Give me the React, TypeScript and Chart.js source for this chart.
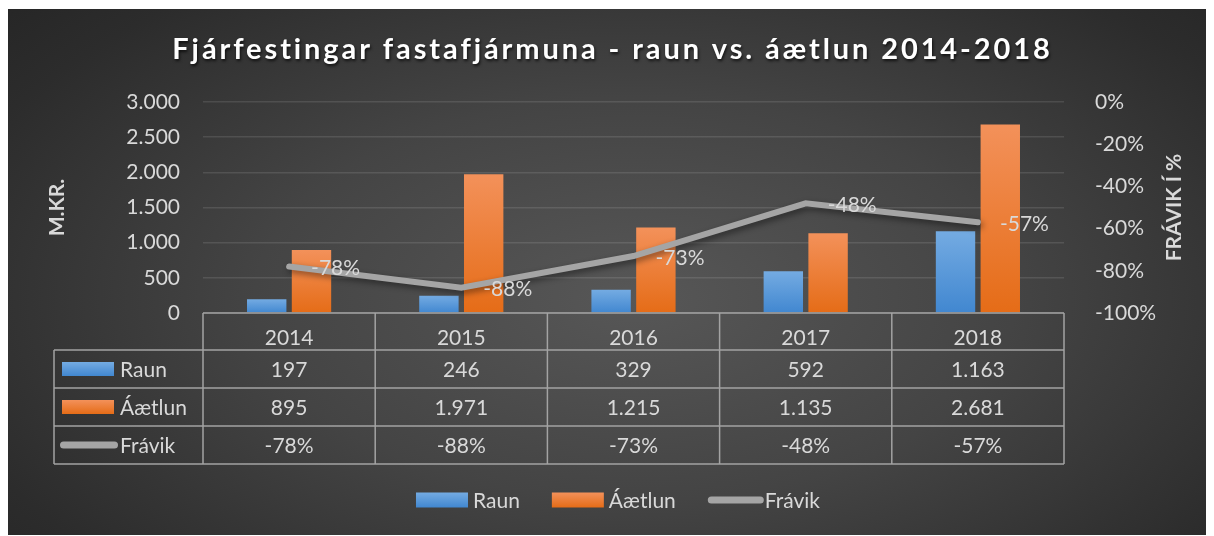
import React, { useEffect, useRef } from "react";
import { Chart, registerables } from "chart.js";

Chart.register(...registerables);

// ---------- data ----------
const categories = ["2014", "2015", "2016", "2017", "2018"];
const raun = [197, 246, 329, 592, 1163];
const aaetlun = [895, 1971, 1215, 1135, 2681];
const fravik = [-78, -88, -73, -48, -57];
const seriesNames = ["Raun", "Áætlun", "Frávik"];
const chartTitle = "Fjárfestingar fastafjármuna - raun vs. áætlun 2014-2018";
const leftAxisTitle = "M.KR.";
const rightAxisTitle = "FRÁVIK Í %";

// ---------- styles ----------
const FONT = "Lato, 'Open Sans', sans-serif";
const FS = 21;
const TEXT = "#d9d9d9";
const LINE = "#a5a5a5";
const TABLE_LINE = "#a3a3a3";
const BLUE_TOP = "#74abe2";
const BLUE_BOT = "#4187d0";
const ORANGE_TOP = "#f3915a";
const ORANGE_BOT = "#e56c17";
const HEADER_H = 37;
const ROW_H = 38;
const TABLE_LEFT = 46;

const fmt = (n: number) => String(n).replace(/\B(?=(\d{3})+(?!\d))/g, ".");

function barGradient(top: string, bot: string) {
  return (ctx: any) => {
    const chart = ctx.chart;
    if (!chart.chartArea || ctx.type !== "data") return top;
    const y = chart.scales.y;
    const y0 = y.getPixelForValue(ctx.raw);
    const y1 = y.getPixelForValue(0);
    if (!isFinite(y0) || !isFinite(y1) || y0 === y1) return top;
    const g = chart.ctx.createLinearGradient(0, y0, 0, y1);
    g.addColorStop(0, top);
    g.addColorStop(1, bot);
    return g;
  };
}

function drawBox(ctx: CanvasRenderingContext2D, x: number, yc: number, w: number, h: number, top: string, bot: string) {
  const g = ctx.createLinearGradient(0, yc - h / 2, 0, yc + h / 2);
  g.addColorStop(0, top);
  g.addColorStop(1, bot);
  ctx.fillStyle = g;
  ctx.fillRect(x, yc - h / 2, w, h);
}

function drawLineKey(ctx: CanvasRenderingContext2D, x: number, yc: number, w: number) {
  ctx.save();
  ctx.strokeStyle = LINE;
  ctx.lineWidth = 7;
  ctx.lineCap = "round";
  ctx.beginPath();
  ctx.moveTo(x + 3.5, yc);
  ctx.lineTo(x + w - 3.5, yc);
  ctx.stroke();
  ctx.restore();
}

const decorPlugin = {
  id: "decor",
  beforeDatasetDraw(chart: any, args: any) {
    if (args.meta.type === "line") {
      const ctx = chart.ctx;
      ctx.save();
      ctx.shadowColor = "rgba(0,0,0,0.45)";
      ctx.shadowBlur = 6;
      ctx.shadowOffsetX = 2;
      ctx.shadowOffsetY = 3;
    }
  },
  afterDatasetDraw(chart: any, args: any) {
    if (args.meta.type === "line") chart.ctx.restore();
  },
  afterDatasetsDraw(chart: any) {
    const ctx = chart.ctx as CanvasRenderingContext2D;
    const meta = chart.getDatasetMeta(2);
    ctx.save();
    ctx.font = `${FS}px ${FONT}`;
    ctx.fillStyle = TEXT;
    ctx.textAlign = "left";
    ctx.textBaseline = "middle";
    meta.data.forEach((pt: any, i: number) => {
      ctx.fillText(`${fravik[i]}%`, pt.x + 22, pt.y + 2);
    });
    ctx.restore();
  },
  afterDraw(chart: any) {
    const ctx = chart.ctx as CanvasRenderingContext2D;
    const area = chart.chartArea;
    const n = categories.length;
    const colW = (area.right - area.left) / n;
    const top = area.bottom;
    const rowTops = [top + HEADER_H, top + HEADER_H + ROW_H, top + HEADER_H + 2 * ROW_H];
    const bottom = top + HEADER_H + 3 * ROW_H;

    // ---- table lines ----
    ctx.save();
    ctx.strokeStyle = TABLE_LINE;
    ctx.lineWidth = 1.5;
    ctx.beginPath();
    ctx.moveTo(area.left, top);
    ctx.lineTo(area.right, top);
    [...rowTops, bottom].forEach((y) => {
      ctx.moveTo(TABLE_LEFT, y);
      ctx.lineTo(area.right, y);
    });
    for (let i = 0; i <= n; i++) {
      const x = area.left + i * colW;
      ctx.moveTo(x, top);
      ctx.lineTo(x, bottom);
    }
    ctx.moveTo(TABLE_LEFT, rowTops[0]);
    ctx.lineTo(TABLE_LEFT, bottom);
    ctx.stroke();
    ctx.restore();

    // ---- table cells ----
    const rows = [raun.map(fmt), aaetlun.map(fmt), fravik.map((v) => `${v}%`)];
    ctx.save();
    ctx.font = `${FS}px ${FONT}`;
    ctx.fillStyle = TEXT;
    ctx.textBaseline = "middle";
    ctx.textAlign = "center";
    rows.forEach((r, ri) => {
      const yc = rowTops[ri] + ROW_H / 2;
      r.forEach((txt, ci) => {
        ctx.fillText(txt, chart.scales.x.getPixelForValue(ci), yc + 1);
      });
    });
    // row keys
    rows.forEach((_, ri) => {
      const yc = rowTops[ri] + ROW_H / 2;
      if (ri === 0) drawBox(ctx, 54, yc, 52, 14, BLUE_TOP, BLUE_BOT);
      else if (ri === 1) drawBox(ctx, 54, yc, 52, 14, ORANGE_TOP, ORANGE_BOT);
      else drawLineKey(ctx, 52, yc, 58);
      ctx.fillStyle = TEXT;
      ctx.textAlign = "left";
      ctx.fillText(seriesNames[ri], 112, yc + 1);
    });

    // ---- bottom legend ----
    const ly = 491;
    const keyW = 52;
    const gapText = 5;
    const gapItem = 32;
    const widths = seriesNames.map((s) => keyW + gapText + ctx.measureText(s).width);
    const total = widths.reduce((a, b) => a + b, 0) + gapItem * (widths.length - 1);
    let lx = 610 - total / 2;
    seriesNames.forEach((s, i) => {
      if (i === 0) drawBox(ctx, lx, ly, keyW, 15, BLUE_TOP, BLUE_BOT);
      else if (i === 1) drawBox(ctx, lx, ly, keyW, 15, ORANGE_TOP, ORANGE_BOT);
      else drawLineKey(ctx, lx, ly, keyW + 4);
      ctx.fillStyle = TEXT;
      ctx.textAlign = "left";
      ctx.fillText(s, lx + keyW + gapText, ly + 1);
      lx += widths[i] + gapItem;
    });
    ctx.restore();

    // ---- right axis title (reads bottom-to-top) ----
    ctx.save();
    ctx.font = `bold ${FS}px ${FONT}`;
    ctx.fillStyle = TEXT;
    ctx.textAlign = "center";
    ctx.textBaseline = "middle";
    ctx.translate(1166, (area.top + area.bottom) / 2);
    ctx.rotate(-Math.PI / 2);
    ctx.fillText(rightAxisTitle, 0, 0);
    ctx.restore();

    // ---- chart title ----
    ctx.save();
    ctx.font = `bold 29px ${FONT}`;
    (ctx as any).letterSpacing = "2.9px";
    ctx.fillStyle = "#ffffff";
    ctx.textAlign = "center";
    ctx.textBaseline = "middle";
    ctx.shadowColor = "rgba(0,0,0,0.7)";
    ctx.shadowBlur = 3;
    ctx.shadowOffsetX = 1;
    ctx.shadowOffsetY = 2;
    ctx.fillText(chartTitle, chart.width / 2 + 1.5, 41);
    ctx.restore();
  },
};

export default function App() {
  const canvasRef = useRef<HTMLCanvasElement | null>(null);

  useEffect(() => {
    if (!canvasRef.current) return;
    const chart = new Chart(canvasRef.current, {
      type: "bar",
      data: {
        labels: categories,
        datasets: [
          {
            type: "bar",
            label: seriesNames[0],
            data: raun,
            backgroundColor: barGradient(BLUE_TOP, BLUE_BOT),
            yAxisID: "y",
            order: 1,
            categoryPercentage: 0.52,
            barPercentage: 0.88,
          },
          {
            type: "bar",
            label: seriesNames[1],
            data: aaetlun,
            backgroundColor: barGradient(ORANGE_TOP, ORANGE_BOT),
            yAxisID: "y",
            order: 1,
            categoryPercentage: 0.52,
            barPercentage: 0.88,
          },
          {
            type: "line",
            label: seriesNames[2],
            data: fravik,
            borderColor: LINE,
            backgroundColor: LINE,
            borderWidth: 6,
            borderCapStyle: "round",
            borderJoinStyle: "miter",
            pointRadius: 0,
            pointHoverRadius: 0,
            tension: 0,
            yAxisID: "y1",
            order: 0,
          },
        ] as any,
      },
      options: {
        animation: false,
        responsive: true,
        maintainAspectRatio: false,
        events: [],
        layout: { padding: { top: 93, bottom: 186, left: 0, right: 0 } },
        plugins: {
          legend: { display: false },
          title: { display: false },
          tooltip: { enabled: false },
        },
        scales: {
          x: {
            type: "category",
            offset: true,
            grid: { display: false },
            border: { display: false },
            ticks: { color: TEXT, font: { family: FONT, size: FS }, padding: 5 },
            afterFit: (s: any) => {
              s.height = HEADER_H;
            },
          },
          y: {
            position: "left",
            min: 0,
            max: 3000,
            ticks: {
              stepSize: 500,
              color: TEXT,
              font: { family: FONT, size: FS },
              padding: 23,
              callback: (v: any) => fmt(Number(v)),
            },
            grid: { color: "rgba(255,255,255,0.11)", lineWidth: 1.5, drawTicks: false },
            border: { display: false },
            title: {
              display: true,
              text: leftAxisTitle,
              color: TEXT,
              font: { family: FONT, size: FS, weight: "bold" },
              padding: { top: 37, bottom: 0 },
            },
            afterFit: (s: any) => {
              s.width = 195;
            },
          },
          y1: {
            position: "right",
            min: -100,
            max: 0,
            ticks: {
              stepSize: 20,
              color: TEXT,
              font: { family: FONT, size: FS },
              padding: 23,
              callback: (v: any) => `${v}%`,
            },
            grid: { display: false },
            border: { display: false },
            afterFit: (s: any) => {
              s.width = 150;
            },
          },
        },
      } as any,
      plugins: [decorPlugin],
    });
    return () => chart.destroy();
  }, []);

  return (
    <div
      style={{
        position: "relative",
        top: 1,
        width: 1206,
        height: 527,
        background:
          "radial-gradient(ellipse 70% 85% at 52% 55%, #575757 0%, #444444 45%, #2c2c2c 85%, #262626 100%)",
      }}
    >
      <canvas ref={canvasRef} />
    </div>
  );
}
